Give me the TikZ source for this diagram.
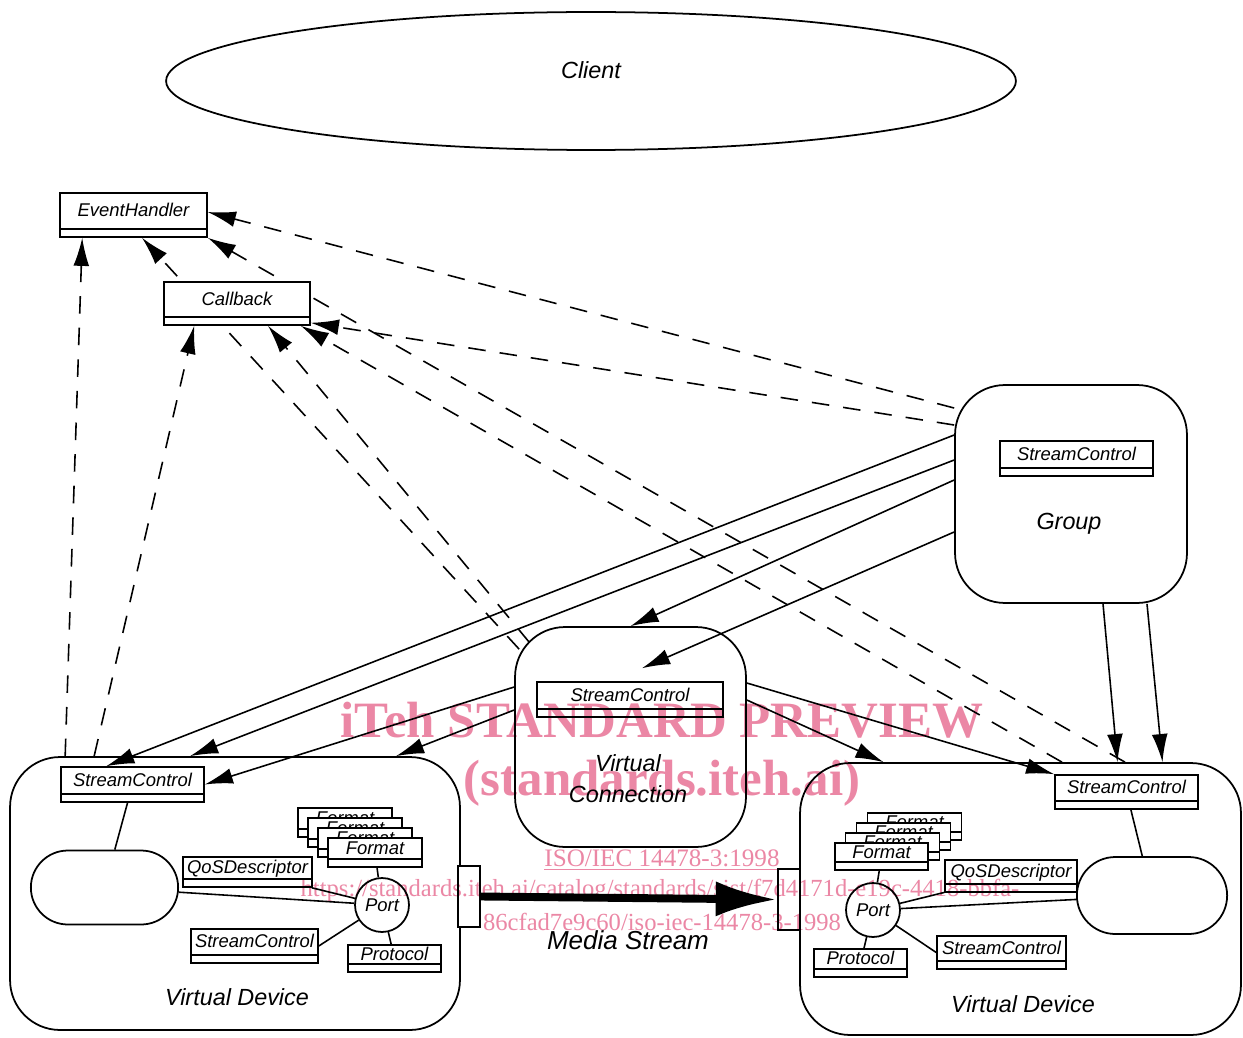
\documentclass[tikz,border=0pt]{standalone}
\usepackage{fontspec}
\setmainfont{Liberation Sans}
\newfontfamily\wmfont{Liberation Serif}
\usepackage{tikz}
\usetikzlibrary{arrows.meta,shapes.geometric,shapes.misc,positioning}
\definecolor{wmpink}{RGB}{235,135,165}
\newcommand{\clsfont}{\fontsize{10.5}{12}\selectfont\itshape}
\newcommand{\lblfont}{\fontsize{13.3}{17.5}\selectfont\itshape}
\newcommand{\msfont}{\fontsize{14.8}{17}\selectfont\itshape}
\tikzstyle{cls}=[rectangle,draw,fill=white,line width=0.9pt,inner sep=0pt,
font=\clsfont,text height=8pt,text depth=6pt,
path picture={\draw[line width=0.9pt] ([yshift=4.5pt]path picture bounding box.south west) -- ([yshift=4.5pt]path picture bounding box.south east);}]
\tikzstyle{cont}=[rectangle,draw,fill=white,line width=1pt,rounded corners=1cm]
\tikzstyle{stad}=[rounded rectangle,draw,fill=white,line width=1pt]
\tikzstyle{port}=[circle,draw,fill=white,line width=1pt,minimum size=1.08cm,inner sep=0pt,font=\clsfont]
\tikzstyle{dep}=[dash pattern=on 10pt off 8pt,line width=0.9pt,-{Latex[length=16pt,width=9pt]}]
\tikzstyle{ctl}=[line width=0.9pt,-{Latex[length=16pt,width=9pt]}]
\tikzstyle{wire}=[line width=0.9pt]
\tikzstyle{wm}=[text=wmpink,inner sep=0pt]

\begin{document}
\begin{tikzpicture}[x=0.02cm,y=-0.02cm]
            \useasboundingbox (0,0) rectangle (1243,1037);

            % CONTAINERS

            \node[ellipse,draw,line width=1pt,minimum width=17cm,minimum height=2.76cm,
                  font=\lblfont,text height=9.5pt,text depth=12.5pt] (client) at (591,81) {Client};
            \node[cont,minimum width=4.64cm,minimum height=4.36cm] (grp) at (1071,494) {};
            \node[cont,minimum width=4.62cm,minimum height=4.4cm]  (vc)  at (630.5,737) {};
            \node[cont,minimum width=9cm,minimum height=5.46cm]    (vdL) at (235,893.5) {};
            \node[cont,minimum width=8.82cm,minimum height=5.44cm] (vdR) at (1020.5,899) {};
            \node[cls,minimum width=2.94cm,minimum height=0.88cm]  (eh)  at (133.5,215) {EventHandler};

            % dependencies that run behind Callback
            \path[dep] ([xshift=0.1cm,yshift=-0.46cm]vc.north west) edge node {} ([xshift=0.17cm]eh.south);
            \path[dep] ([xshift=2.09cm]vdR.north) edge node {} (eh.south east);
            \path[dep] ([xshift=1.12cm]vdL.north west) edge node {} ([xshift=0.46cm]eh.south west);
            \path[dep] ([yshift=1.72cm]grp.west) edge node {} ([yshift=0.06cm]eh.east);

            \node[cls,minimum width=2.92cm,minimum height=0.86cm] (cb) at (237,303.5) {Callback};

            \path[dep] ([xshift=1.7cm]vdL.north west) edge node {} ([xshift=0.62cm]cb.south west);
            \path[dep] ([xshift=0.3cm,yshift=-0.32cm]vc.north west) edge node {} ([xshift=0.62cm]cb.south);
            \path[dep] ([xshift=0.83cm]vdR.north) edge node {} ([xshift=-0.2cm]cb.south east);
            \path[dep] ([yshift=1.38cm]grp.west) edge node {} ([yshift=0.06cm]cb.south east);

            % STREAM CONTROLS

            \node[cls,minimum width=3.06cm,minimum height=0.7cm]  (scG) at (1076.5,458.5) {StreamControl};
            \node[cls,minimum width=3.72cm,minimum height=0.7cm]  (scV) at (630,699.5) {StreamControl};
            \node[cls,minimum width=2.86cm,minimum height=0.7cm]  (scL) at (132.5,784.5) {StreamControl};
            \node[cls,minimum width=2.86cm,minimum height=0.68cm] (scR) at (1126.5,792) {StreamControl};

            \path[ctl] ([yshift=1.18cm]grp.west) edge node {} ([xshift=0.92cm]scL.north west);
            \path[ctl] ([yshift=0.68cm]grp.west) edge node {} ([xshift=-0.9cm]vdL.north);
            \path[ctl] ([yshift=0.28cm]grp.west) edge node {} (vc.north);
            \path[ctl] ([yshift=-0.76cm]grp.west) edge node {} ([xshift=0.24cm,yshift=0.26cm]scV.north);
            \path[ctl] ([xshift=0.64cm]grp.south) edge node {} ([xshift=1.94cm]vdR.north);
            \path[ctl] ([xshift=1.52cm]grp.south) edge node {} ([xshift=2.84cm]vdR.north);
            \path[ctl] ([yshift=1.0cm]vc.west) edge node {} (scL.east);
            \path[ctl] ([yshift=0.54cm]vc.west) edge node {} ([xshift=3.22cm]vdL.north);
            \path[ctl] ([yshift=1.08cm]vc.east) edge node {} (scR.north west);
            \path[ctl] ([yshift=0.74cm]vc.east) edge node {} ([xshift=-2.74cm]vdR.north);

            % LEFT DEVICE

            \node[stad,minimum width=3.18cm,minimum height=1.48cm] (stL) at (104.5,887.5) {};
            \node[cls,minimum width=2.58cm,minimum height=0.6cm]  (qL)  at (247.5,872) {QoSDescriptor};
            \node[cls,minimum width=2.54cm,minimum height=0.68cm] (siL) at (254.5,946) {StreamControl};
            \node[cls,minimum width=1.86cm,minimum height=0.54cm] (prL) at (394.5,958.5) {Protocol};
            \node[cls,minimum width=1.88cm,minimum height=0.58cm] (fL1) at (345,822.5) {Format};
            \node[cls,minimum width=1.88cm,minimum height=0.58cm] (fL2) at (355,832.5) {Format};
            \node[cls,minimum width=1.88cm,minimum height=0.58cm] (fL3) at (365,842.5) {Format};
            \node[cls,minimum width=1.88cm,minimum height=0.58cm] (fL4) at (375,852.5) {Format};
            \node[port] (pL) at (382,905) {Port};

            \draw[wire] (scL) -- (stL);
            \draw[wire] (stL) -- (pL);
            \draw[wire] (qL) -- (pL);
            \draw[wire] (fL4) -- (pL);
            \draw[wire] (siL.east) -- (pL);
            \draw[wire] (pL) -- (prL);

            % RIGHT DEVICE

            \node[stad,minimum width=3.24cm,minimum height=1.54cm] (stR) at (1152,895.5) {};
            \node[cls,minimum width=2.64cm,minimum height=0.64cm] (qR)  at (1011,876) {QoSDescriptor};
            \node[cls,minimum width=2.58cm,minimum height=0.66cm] (siR) at (1001.5,952.5) {StreamControl};
            \node[cls,minimum width=1.86cm,minimum height=0.56cm] (prR) at (860.5,963) {Protocol};
            \node[cls,minimum width=1.88cm,minimum height=0.54cm] (fR1) at (914.5,826.5) {Format};
            \node[cls,minimum width=1.88cm,minimum height=0.54cm] (fR2) at (903.5,836.5) {Format};
            \node[cls,minimum width=1.88cm,minimum height=0.54cm] (fR3) at (892.5,846.5) {Format};
            \node[cls,minimum width=1.86cm,minimum height=0.54cm] (fR4) at (881.5,856.5) {Format};
            \node[port] (pR) at (873,910) {Port};

            \draw[wire] (scR) -- (stR);
            \draw[wire] (fR4) -- (pR);
            \draw[wire] (qR) -- (pR);
            \draw[wire] (pR) -- (stR);
            \draw[wire] (pR) -- (siR.west);
            \draw[wire] (pR) -- (prR);

            % MEDIA STREAM

            \node[rectangle,draw,fill=white,line width=0.9pt,minimum width=0.44cm,minimum height=1.22cm] (msL) at (469,896.5) {};
            \node[rectangle,draw,fill=white,line width=0.9pt,minimum width=0.44cm,minimum height=1.22cm] (msR) at (789,899.5) {};
            \path[line width=4.5pt,-{Latex[length=35pt,width=20pt]}] (msL.east) edge node {} (msR.west);

            % LABELS

            \node[font=\lblfont] (grpTxt) at (1069,524) {Group};
            \node[font=\lblfont,align=center] (vcTxt) at (628,779) {Virtual\\Connection};
            \node[font=\lblfont] (vdLTxt) at (237,997) {Virtual Device};
            \node[font=\lblfont] (vdRTxt) at (1023,1004) {Virtual Device};
            \node[font=\msfont] (msTxt) at (628,940) {Media Stream};

            % WATERMARK

            \begin{scope}[blend mode=multiply]
            \node[wm,font=\wmfont\bfseries\fontsize{29}{30}\selectfont] (wm1) at (662,720) {iTeh STANDARD PREVIEW};
            \node[wm,font=\wmfont\bfseries\fontsize{29}{30}\selectfont] (wm2) at (662,783) {(standards.iteh.ai)};
            \node[wm,font=\wmfont\fontsize{14.3}{16}\selectfont] (wm3) at (662,860) {\underline{ISO/IEC 14478-3:1998}};
            \node[wm,font=\wmfont\fontsize{14}{16}\selectfont] (wm4) at (660,890) {https://standards.iteh.ai/catalog/standards/sist/f7d4171d-e19c-4418-bbfa-};
            \node[wm,font=\wmfont\fontsize{14}{16}\selectfont] (wm5) at (662,922) {86cfad7e9c60/iso-iec-14478-3-1998};
            \end{scope}

        \end{tikzpicture}
\end{document}
